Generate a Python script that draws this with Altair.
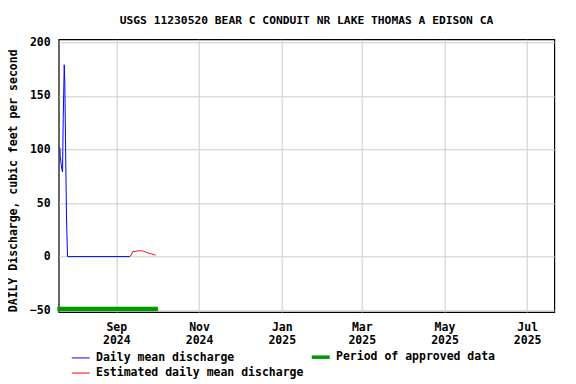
import altair as alt
import pandas as pd

FONT = "DejaVu Sans Mono"

# Daily mean discharge (blue)
daily_dates = ["2024-07-20T12:00", "2024-07-21T12:00", "2024-07-21T14:00", "2024-07-22T10:00",
               "2024-07-23T08:00", "2024-07-23T20:00", "2024-07-24T14:00", "2024-07-25T00:00",
               "2024-07-25T12:00", "2024-07-26T06:00", "2024-07-27T00:00", "2024-09-11T00:00"]
daily_values = [102, 101, 94, 85, 79, 129, 179, 163, 111, 37, 0, 0]

# Estimated daily mean discharge (red)
est_dates = ["2024-09-11T00:00", "2024-09-12T00:00", "2024-09-13T00:00", "2024-09-14T00:00",
             "2024-09-15T00:00", "2024-09-16T00:00", "2024-09-17T00:00", "2024-09-18T00:00",
             "2024-09-19T00:00", "2024-09-20T00:00", "2024-09-21T00:00", "2024-09-22T00:00",
             "2024-09-23T00:00", "2024-09-24T00:00", "2024-09-25T00:00", "2024-09-26T00:00",
             "2024-09-27T00:00", "2024-09-28T00:00", "2024-09-29T00:00", "2024-09-30T00:00"]
est_values = [0, 1.5, 4.5, 4.7, 4.8, 5.2, 5.4, 5.4, 5.4, 5.3, 5.0, 4.6, 4.0, 3.6, 3.2, 2.9,
              2.5, 2.1, 1.7, 1.4]

# Period of approved data (green bar)
approved_dates = ["2024-07-19T12:00", "2024-10-01T16:00"]
approved_values = [-48.8, -48.8]

series_names = ["Daily mean discharge", "Estimated daily mean discharge", "Period of approved data"]
series_colors = ["#0000ff", "#ff0000", "#009900"]

y_ticks = [-50, 0, 50, 100, 150, 200]

rows = []
for d, v in zip(daily_dates, daily_values):
    rows.append({"date": d, "value": v, "series": series_names[0]})
for d, v in zip(est_dates, est_values):
    rows.append({"date": d, "value": v, "series": series_names[1]})
for d, v in zip(approved_dates, approved_values):
    rows.append({"date": d, "value": v, "series": series_names[2]})
df = pd.DataFrame(rows)

x_ticks = [alt.DateTime(year=2024, month=9, date=1), alt.DateTime(year=2024, month=11, date=1),
           alt.DateTime(year=2025, month=1, date=1), alt.DateTime(year=2025, month=3, date=1),
           alt.DateTime(year=2025, month=5, date=1), alt.DateTime(year=2025, month=7, date=1)]

legend = alt.Legend(
    title=None, orient="none", legendX=16.3, legendY=312, direction="vertical",
    columns=2, symbolType="stroke", symbolSize=324,
    columnPadding=0, rowPadding=2, padding=0, labelOffset=9.5, labelLimit=400,
    symbolStrokeWidth=alt.ExprRef("datum.value === 'Period of approved data' ? 3.5 : 1"),
)

chart = alt.Chart(df).mark_line(strokeCap="butt").encode(
    x=alt.X("date:T",
            scale=alt.Scale(domain=[alt.DateTime(year=2024, month=7, date=20, hours=12),
                                    alt.DateTime(year=2025, month=7, date=21)]),
            axis=alt.Axis(title=None, values=x_ticks, grid=True, ticks=False, domain=False,
                          labelExpr="[timeFormat(datum.value, '%b'), timeFormat(datum.value, '%Y')]",
                          labelPadding=10, labelLineHeight=13)),
    y=alt.Y("value:Q", scale=alt.Scale(domain=[-51.7, 202.8], nice=False, zero=False),
            axis=alt.Axis(title="DAILY Discharge, cubic feet per second", values=y_ticks,
                          grid=True, ticks=False, domain=False, labelPadding=8.5,
                          titleX=-41.7, titleY=141, titleBaseline="alphabetic")),
    color=alt.Color("series:N", scale=alt.Scale(domain=series_names, range=series_colors),
                    legend=legend),
    strokeWidth=alt.condition(alt.datum.series == "Period of approved data",
                              alt.value(4.5), alt.value(1)),
).properties(
    width=495.6,
    height=272.7,
    title=alt.Title("USGS 11230520 BEAR C CONDUIT NR LAKE THOMAS A EDISON CA",
                    font=FONT, fontSize=11.3, fontWeight="bold", offset=10),
    autosize=alt.AutoSizeParams(type="none"),
    padding={"left": 50.7, "top": 31.3, "right": 13, "bottom": 72},
).configure_view(
    stroke="black", strokeWidth=1.2
).configure_axis(
    labelFont=FONT, labelFontSize=11.5, labelFontWeight="bold", labelColor="black",
    titleFont=FONT, titleFontSize=11.5, titleFontWeight="bold", titleColor="black",
    gridColor="#cccccc", gridWidth=1
).configure_legend(
    labelFont=FONT, labelFontSize=11.5, labelFontWeight="bold", labelColor="black"
)

chart.save("out.html", embed_options={"renderer": "svg", "actions": False})
